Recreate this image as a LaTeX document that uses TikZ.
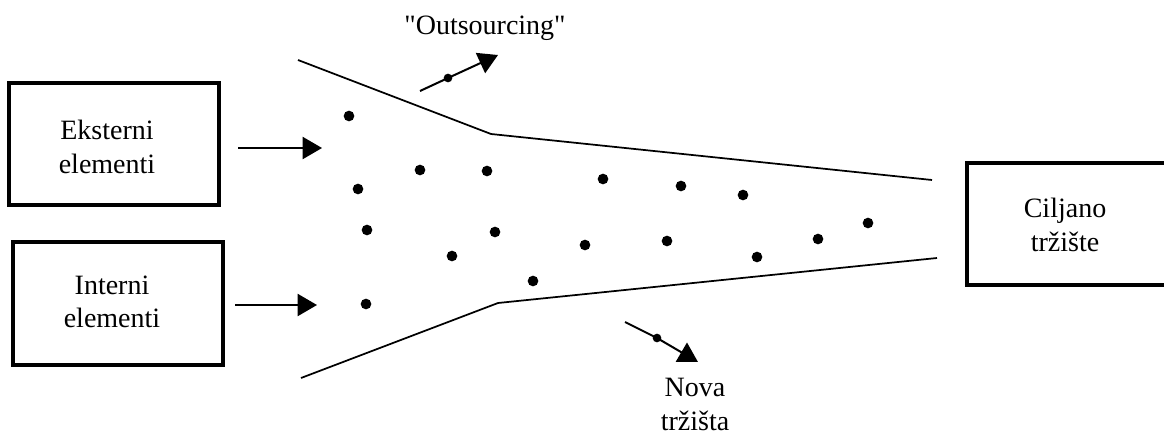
\documentclass[tikz,border=0pt]{standalone}
\usepackage{fontspec}
\setmainfont{Liberation Serif}[Ligatures=TeXOff]
\usetikzlibrary{arrows.meta}
\begin{document}
\begin{tikzpicture}[x=0.75pt,y=-0.75pt,
  box/.style={draw,line width=2.6pt,minimum height=91.5pt,inner sep=0pt,outer sep=0pt},
  lbl/.style={align=center,font=\fontsize{21pt}{25pt}\selectfont,inner sep=0pt},
  edge/.style={line width=1.3pt,line join=round},
  flow/.style={line width=1.5pt,-{Triangle[length=14.5pt,width=16.5pt]}},
  dot/.style={circle,fill,inner sep=0pt,minimum size=8pt},
  tick/.style={circle,fill,inner sep=0pt,minimum size=6.5pt}]
\useasboundingbox (0,0) rectangle (1164,435);

% source and target boxes
\node[box,minimum width=157.5pt] (ext) at (114,144) {};
\node[lbl] (extL) at (107,147) {Eksterni\\elementi};
\node[box,minimum width=157.5pt,minimum height=92.25pt] (int) at (118,303.5) {};
\node[lbl] (intL) at (112,302) {Interni\\elementi};
\node[box,minimum width=153.75pt] (cil) at (1069.5,224) {};
\node[lbl] (cilL) at (1065,225) {Ciljano\\tržište};

% funnel walls
\coordinate (u1) at (298,60);
\coordinate (u2) at (491,134);
\coordinate (u3) at (932,180);
\coordinate (l1) at (301,378);
\coordinate (l2) at (498,303);
\coordinate (l3) at (937,258);
\draw[edge] (u1) -- (u2) -- (u3);
\draw[edge] (l1) -- (l2) -- (l3);

% inputs
\coordinate (a1s) at (238,148);
\coordinate (a1e) at (322,148);
\coordinate (a2s) at (235,305);
\coordinate (a2e) at (317,305);
\draw[flow] (a1s) -- (a1e);
\draw[flow] (a2s) -- (a2e);

% outflows
\coordinate (os) at (420,91);
\node[tick] (om) at (448,78) {};
\coordinate (oe) at (498,55);
\draw[flow] (os) -- (om.center) -- (oe);
\node[lbl,anchor=base] (outL) at (485,35) {"Outsourcing"};

\coordinate (ns) at (625,322);
\node[tick] (nm) at (657,338) {};
\coordinate (ne) at (698,362);
\draw[flow] (ns) -- (nm.center) -- (ne);
\node[lbl,anchor=base] (novaL) at (695,430) {Nova\\tržišta};

% elements inside the funnel
\foreach \p [count=\i] in {(349,116),(358,189),(367,230),(366,304),(420,170),(487,171),
  (495,232),(452,256),(533,281),(585,245),(603,179),(667,241),(681,186),(743,195),
  (757,257),(818,239),(868,223)}
  \node[dot] (d\i) at \p {};
\end{tikzpicture}
\end{document}
